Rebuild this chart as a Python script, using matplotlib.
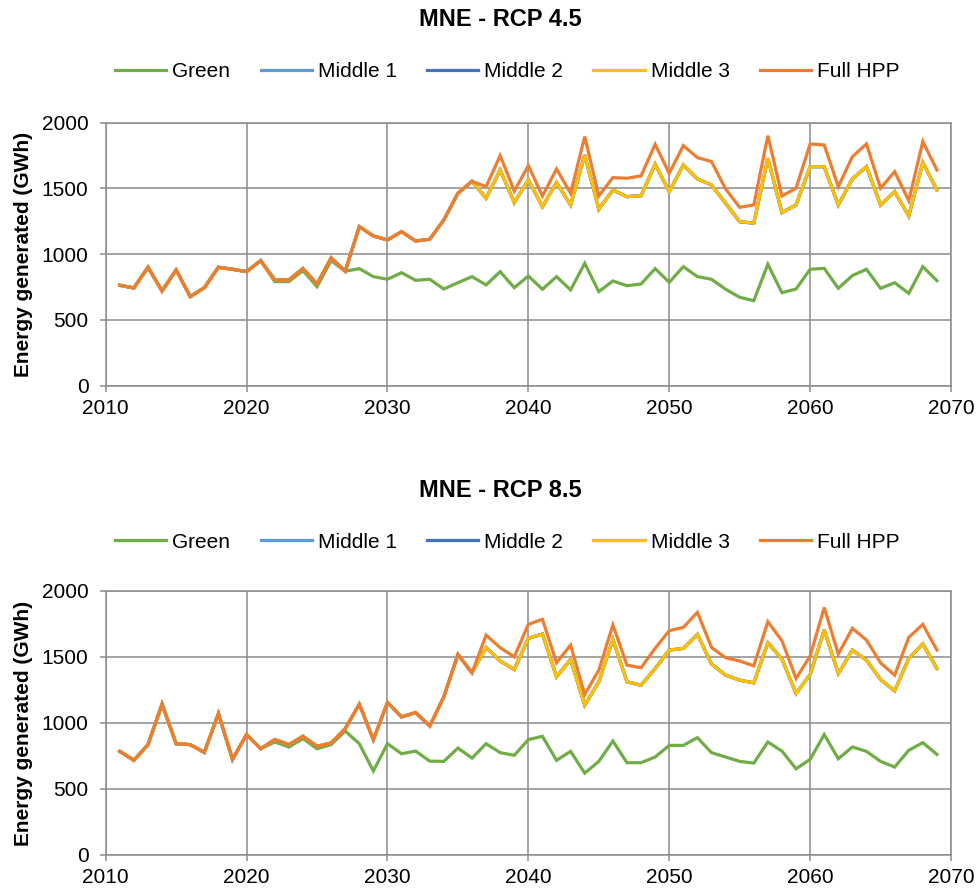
import matplotlib
matplotlib.use("Agg")
import matplotlib.pyplot as plt
import numpy as np

plt.rcParams['font.family'] = ['Liberation Sans', 'DejaVu Sans']

years = list(range(2011, 2070))

# RCP 4.5 (GWh)
green_45 = [763, 743, 900, 720, 880, 677, 745, 900, 885, 867,
            951, 791, 791, 875, 753, 951, 870, 890, 829, 809,
            859, 801, 809, 735, 783, 829, 766, 867, 745, 834,
            733, 829, 728, 930, 715, 796, 760, 773, 890, 786,
            905, 829, 809, 733, 672, 646, 923, 707, 735, 885,
            892, 740, 837, 885, 740, 783, 702, 905, 798]
mid_45 = [763, 743, 900, 720, 880, 677, 745, 900, 885, 867,
          951, 804, 804, 890, 773, 971, 870, 1209, 1138, 1108,
          1171, 1100, 1113, 1260, 1463, 1554, 1425, 1640, 1392, 1564,
          1361, 1544, 1374, 1754, 1341, 1488, 1437, 1445, 1683, 1475,
          1678, 1572, 1526, 1387, 1247, 1235, 1729, 1316, 1374, 1665,
          1665, 1374, 1572, 1665, 1374, 1475, 1290, 1696, 1488]
full_45 = [763, 743, 900, 720, 880, 677, 745, 900, 885, 867,
           951, 804, 804, 890, 773, 971, 870, 1209, 1138, 1108,
           1171, 1100, 1113, 1260, 1463, 1554, 1513, 1749, 1480, 1673,
           1442, 1648, 1463, 1894, 1442, 1582, 1577, 1595, 1835, 1615,
           1825, 1734, 1704, 1496, 1356, 1374, 1901, 1442, 1501, 1838,
           1830, 1513, 1741, 1838, 1501, 1627, 1407, 1856, 1640]

# RCP 8.5 (GWh)
green_85 = [785, 717, 836, 1142, 843, 836, 777, 1071, 724, 912,
            805, 856, 818, 881, 805, 836, 939, 843, 636, 843,
            767, 787, 711, 709, 810, 734, 843, 775, 755, 874,
            899, 717, 785, 620, 709, 863, 699, 699, 742, 830,
            830, 889, 775, 742, 709, 696, 856, 787, 653, 724,
            912, 729, 818, 785, 709, 666, 793, 851, 762]
mid_85 = [785, 717, 836, 1142, 843, 836, 777, 1071, 724, 912,
          805, 874, 836, 899, 823, 848, 957, 1142, 874, 1155,
          1046, 1079, 977, 1198, 1519, 1380, 1572, 1469, 1405, 1641,
          1674, 1350, 1481, 1134, 1312, 1633, 1312, 1286, 1413, 1552,
          1565, 1671, 1446, 1362, 1324, 1304, 1608, 1484, 1223, 1367,
          1704, 1375, 1552, 1476, 1329, 1243, 1489, 1598, 1413]
full_85 = [785, 717, 836, 1142, 843, 836, 777, 1071, 724, 912,
           805, 874, 836, 899, 823, 848, 957, 1142, 874, 1155,
           1046, 1079, 977, 1198, 1519, 1380, 1666, 1570, 1501, 1747,
           1785, 1456, 1590, 1215, 1400, 1742, 1438, 1418, 1565, 1699,
           1724, 1838, 1572, 1494, 1469, 1433, 1767, 1623, 1337, 1507,
           1874, 1522, 1717, 1628, 1456, 1362, 1648, 1747, 1552]

names = ["Green", "Middle 1", "Middle 2", "Middle 3", "Full HPP"]
colors = ["#70AD47", "#5B9BD5", "#4472C4", "#FFC000", "#ED7D31"]

grid_c = "#8C8C8C"
fs = 15

fig = plt.figure(figsize=(9.76, 8.88), dpi=100)


def panel(rect, series, title, title_y, leg_y):
    ax = fig.add_axes(rect)
    for name, col, vals in zip(names, colors, series):
        ax.plot(years, vals, color=col, lw=2.3, label=name,
                solid_joinstyle="miter")
    ax.set_xlim(2010, 2070)
    ax.set_ylim(0, 2000)
    ax.set_xticks(range(2010, 2071, 10))
    ax.set_yticks(range(0, 2001, 500))
    ax.grid(True, color=grid_c, lw=1.1)
    ax.set_axisbelow(True)
    for s in ax.spines.values():
        s.set_color(grid_c)
        s.set_linewidth(1.1)
    ax.tick_params(direction="out", length=4.3, width=1.1, color=grid_c,
                   labelsize=fs, pad=8)
    ax.tick_params(axis="x", pad=5)
    ax.set_ylabel("Energy generated (GWh)", fontsize=fs, fontweight="bold")
    ax.yaxis.set_label_coords(-0.086, 0.5)
    fig.text(0.513, title_y, title, ha="center", va="center",
             fontsize=17, fontweight="bold")
    fig.legend(*ax.get_legend_handles_labels(), loc="center",
               bbox_to_anchor=(0.52, leg_y), ncol=5, frameon=False,
               fontsize=fs, handlelength=2.45, handletextpad=0.3,
               columnspacing=1.45)
    return ax


panel([0.1083, 0.5657, 0.8661, 0.2962],
      [green_45, mid_45, mid_45, mid_45, full_45],
      "MNE - RCP 4.5", 0.9775, 0.919)
panel([0.1083, 0.0372, 0.8661, 0.2973],
      [green_85, mid_85, mid_85, mid_85, full_85],
      "MNE - RCP 8.5", 0.448, 0.3896)

fig.savefig("out.png", dpi=100)
